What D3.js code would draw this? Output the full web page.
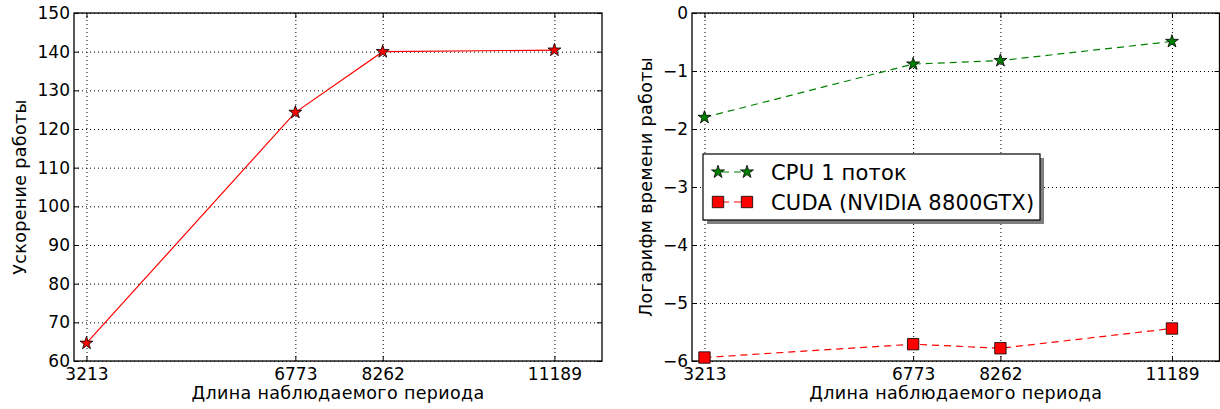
<!DOCTYPE html>
<html>
<head>
<meta charset="utf-8">
<script src="https://cdn.jsdelivr.net/npm/d3@7"></script>
<style>
  html, body { margin: 0; padding: 0; background: #fff; }
  svg { display: block; }
  text { font-family: "DejaVu Sans", sans-serif; fill: #000; }
</style>
</head>
<body>
<svg id="chart" width="1220" height="409"></svg>
<script>
// Observed period lengths (x positions of every point)
const periodLengths = [3213, 6773, 8262, 11189];
const xTickLabels = ["3213", "6773", "8262", "11189"];

// Left panel: speed-up of the GPU version
const speedup = [64.6, 124.3, 140.0, 140.4];
const speedupTicks = [60, 70, 80, 90, 100, 110, 120, 130, 140, 150];

// Right panel: log of running time
const cpuLogTime = [-1.80, -0.88, -0.82, -0.49];
const cudaLogTime = [-5.94, -5.71, -5.78, -5.44];
const logTimeTicks = [-6, -5, -4, -3, -2, -1, 0];

const seriesNames = ["CPU 1 поток", "CUDA (NVIDIA 8800GTX)"];
const xLabel = "Длина наблюдаемого периода";
const yLabelLeft = "Ускорение работы";
const yLabelRight = "Логарифм времени работы";

const svg = d3.select("#chart");
const fmtMinus = d => (d < 0 ? "\u2212" + Math.abs(d) : String(d));

function drawPanel(box, yDomain, yTicks, yFmt, yLabel, yLabelX) {
  const x = d3.scaleLinear().domain([3000, 12000]).range([box.left, box.right]);
  const y = d3.scaleLinear().domain(yDomain).range([box.bottom, box.top]);
  const g = svg.append("g");

  // dotted grid at tick positions
  g.append("g")
    .attr("transform", `translate(0,${box.bottom})`)
    .call(d3.axisBottom(x).tickValues(periodLengths).tickSize(-(box.bottom - box.top)).tickFormat(""))
    .call(s => s.select(".domain").remove())
    .selectAll("line").attr("stroke", "#000").attr("stroke-width", 1).attr("stroke-dasharray", "1,3");
  g.append("g")
    .attr("transform", `translate(${box.left},0)`)
    .call(d3.axisLeft(y).tickValues(yTicks).tickSize(-(box.right - box.left)).tickFormat(""))
    .call(s => s.select(".domain").remove())
    .selectAll("line").attr("stroke", "#000").attr("stroke-width", 1).attr("stroke-dasharray", "1,3");

  // axes with inward ticks on all four sides
  const bottom = g.append("g").attr("transform", `translate(0,${box.bottom})`)
    .call(d3.axisBottom(x).tickValues(periodLengths).tickFormat((d, i) => xTickLabels[i]).tickSizeInner(-5).tickSizeOuter(0).tickPadding(7));
  const left = g.append("g").attr("transform", `translate(${box.left},0)`)
    .call(d3.axisLeft(y).tickValues(yTicks).tickFormat(yFmt).tickSizeInner(-5).tickSizeOuter(0).tickPadding(4));
  const top = g.append("g").attr("transform", `translate(0,${box.top})`)
    .call(d3.axisTop(x).tickValues(periodLengths).tickFormat("").tickSizeInner(-5).tickSizeOuter(0));
  const right = g.append("g").attr("transform", `translate(${box.right},0)`)
    .call(d3.axisRight(y).tickValues(yTicks).tickFormat("").tickSizeInner(-5).tickSizeOuter(0));
  [bottom, left, top, right].forEach(a => {
    a.selectAll("path.domain").remove();
    a.selectAll("line").attr("stroke", "#000").attr("stroke-width", 1);
    a.selectAll("text").attr("font-family", "DejaVu Sans").attr("font-size", 17).attr("fill", "#000");
  });

  // frame
  g.append("rect")
    .attr("x", box.left).attr("y", box.top)
    .attr("width", box.right - box.left).attr("height", box.bottom - box.top)
    .attr("fill", "none").attr("stroke", "#000").attr("stroke-width", 1.3);

  // axis titles
  g.append("text")
    .attr("x", (box.left + box.right) / 2).attr("y", 399)
    .attr("text-anchor", "middle").attr("font-size", 17.5).attr("letter-spacing", 0.35)
    .text(xLabel);
  g.append("text")
    .attr("transform", `translate(${yLabelX},${(box.top + box.bottom) / 2}) rotate(-90)`)
    .attr("text-anchor", "middle").attr("font-size", 17.5).attr("letter-spacing", 0.35)
    .text(yLabel);

  return { g, x, y };
}

const star = d3.symbol().type(d3.symbolStar).size(52);
const square = d3.symbol().type(d3.symbolSquare).size(130);

// ---- Left panel ----
const L = drawPanel({ left: 74, right: 602, top: 13, bottom: 361 }, [60, 150], speedupTicks, d => String(d), yLabelLeft, 26);
const lineL = d3.line().x((d, i) => L.x(periodLengths[i])).y(d => L.y(d));
L.g.append("path").datum(speedup)
  .attr("d", lineL).attr("fill", "none").attr("stroke", "#ff0000").attr("stroke-width", 1.2);
L.g.selectAll(".pt").data(speedup).join("path")
  .attr("transform", (d, i) => `translate(${L.x(periodLengths[i])},${L.y(d)})`)
  .attr("d", star).attr("fill", "#ff0000").attr("stroke", "#000").attr("stroke-width", 0.8);

// ---- Right panel ----
const R = drawPanel({ left: 692, right: 1219.5, top: 13, bottom: 361 }, [-6, 0], logTimeTicks, fmtMinus, yLabelRight, 652);
const lineR = d3.line().x((d, i) => R.x(periodLengths[i])).y(d => R.y(d));
const series = [
  { name: seriesNames[0], values: cpuLogTime, color: "#008000", shape: star },
  { name: seriesNames[1], values: cudaLogTime, color: "#ff0000", shape: square }
];
series.forEach(s => {
  R.g.append("path").datum(s.values)
    .attr("d", lineR).attr("fill", "none").attr("stroke", s.color)
    .attr("stroke-width", 1.2).attr("stroke-dasharray", "7,5");
  R.g.selectAll(null).data(s.values).join("path")
    .attr("transform", (d, i) => `translate(${R.x(periodLengths[i])},${R.y(d)})`)
    .attr("d", s.shape).attr("fill", s.color).attr("stroke", "#000").attr("stroke-width", 0.8);
});

// legend with drop shadow
const lg = { x: 703, y: 154, w: 337, h: 66 };
const legend = svg.append("g");
legend.append("rect").attr("x", lg.x + 4).attr("y", lg.y + 4).attr("width", lg.w).attr("height", lg.h).attr("fill", "#7f7f7f");
legend.append("rect").attr("x", lg.x).attr("y", lg.y).attr("width", lg.w).attr("height", lg.h)
  .attr("fill", "#fff").attr("stroke", "#000").attr("stroke-width", 1.2);
series.forEach((s, i) => {
  const cy = lg.y + 18 + i * 30;
  legend.append("line").attr("x1", 718).attr("x2", 747).attr("y1", cy).attr("y2", cy)
    .attr("stroke", s.color).attr("stroke-width", 1.2).attr("stroke-dasharray", "7,5").attr("stroke-dashoffset", -4);
  [718, 747].forEach(px => legend.append("path")
    .attr("transform", `translate(${px},${cy})`).attr("d", s.shape)
    .attr("fill", s.color).attr("stroke", "#000").attr("stroke-width", 0.8));
  legend.append("text").attr("x", 771).attr("y", cy).attr("dy", "0.36em")
    .attr("font-size", 21).attr("letter-spacing", 0.2).text(s.name);
});
</script>
</body>
</html>
